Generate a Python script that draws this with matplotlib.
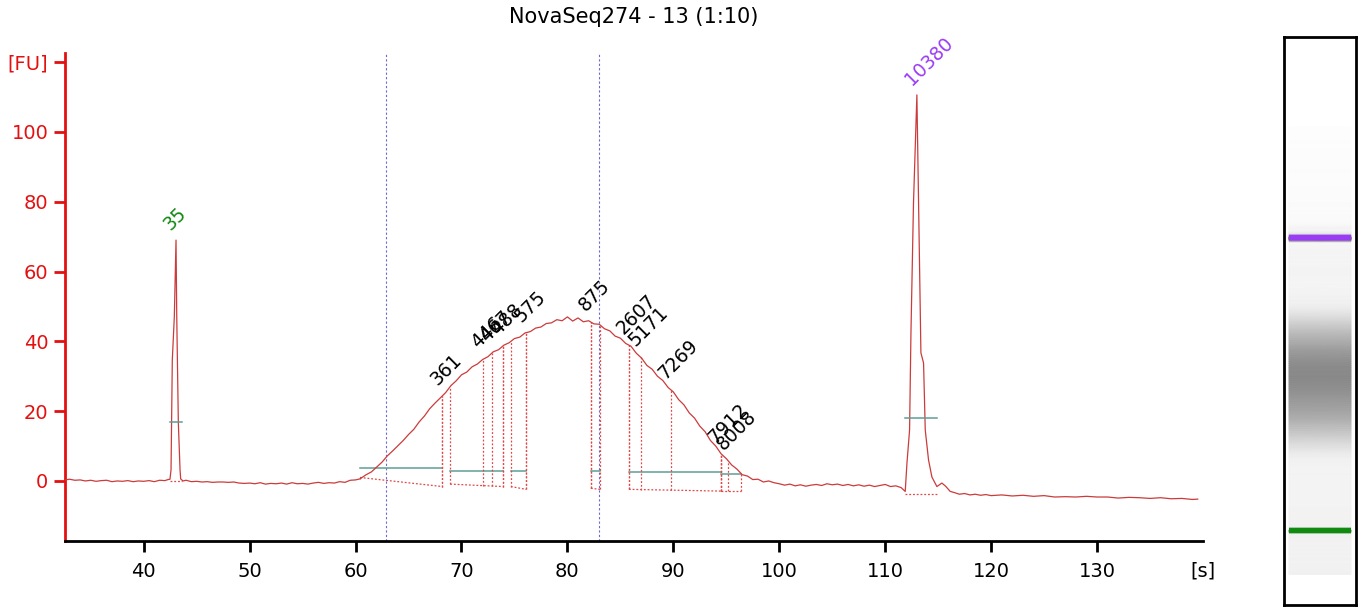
#
# Electropherogram (Bioanalyzer style) with gel lane
#
import numpy as np
import matplotlib.pyplot as plt

# Trace: migration time [s] and signal [FU]
trace_t = [32.6, 33.0, 33.5, 34.0, 34.5, 35.0, 35.5, 36.0, 36.5, 37.0, 37.5, 38.0, 38.5, 39.0, 39.5,
           40.0, 40.5, 41.0, 41.5, 42.0, 42.3, 42.48, 42.58, 42.70, 42.89, 43.05, 43.12, 43.27, 43.43,
           43.49, 43.7, 44.0, 44.5, 45.0, 45.5, 46.0, 46.5, 47.0, 47.5, 48.0, 48.5, 49.0, 49.5, 50.0,
           50.5, 51.0, 51.5, 52.0, 52.5, 53.0, 53.5, 54.0, 54.5, 55.0, 55.5, 56.0, 56.5, 57.0, 57.5,
           58.0, 58.5, 59.0, 59.5, 60.0, 60.42, 61.0, 61.5, 62.0, 62.5, 63.0, 63.5, 64.0, 64.5, 65.0,
           65.5, 66.0, 66.5, 67.0, 67.5, 68.0, 68.5, 69.0, 69.5, 70.0, 70.5, 71.0, 71.5, 72.0, 72.5,
           73.0, 73.5, 74.0, 74.5, 75.0, 75.5, 76.0, 76.5, 77.0, 77.5, 78.0, 78.5, 79.0, 79.5, 80.0,
           80.5, 81.0, 81.5, 82.0, 82.5, 83.0, 83.5, 84.0, 84.5, 85.0, 85.5, 86.0, 86.5, 87.0, 87.5,
           88.0, 88.5, 89.0, 89.5, 90.0, 90.5, 91.0, 91.5, 92.0, 92.5, 93.0, 93.5, 94.0, 94.5, 95.0,
           95.5, 96.0, 96.5, 97.0, 97.5, 98.0, 98.5, 99.0, 99.5, 100.0, 100.5, 101.0, 101.5, 102.0,
           102.5, 103.0, 103.5, 104.0, 104.5, 105.0, 105.5, 106.0, 106.5, 107.0, 107.5, 108.0, 108.5,
           109.0, 109.5, 110.0, 110.5, 111.0, 111.5, 111.89, 112.05, 112.30, 112.43, 112.67, 112.99,
           113.24, 113.37, 113.62, 113.78, 114.09, 114.41, 114.88, 115.35, 115.7, 116.14, 116.5,
           117.0, 117.5, 118.0, 118.5, 119.0, 119.5, 120.0, 121.0, 122.0, 123.0, 124.0, 125.0, 126.0,
           127.0, 128.0, 129.0, 130.0, 131.0, 132.0, 133.0, 134.0, 135.0, 136.0, 137.0, 138.0, 139.0,
           139.5]
trace_fu = [0.3, 0.5, 0.2, 0.3, 0.0, 0.2, -0.1, 0.1, 0.2, -0.2, 0.0, -0.1, 0.1, -0.2, 0.0,
            -0.1, 0.1, -0.2, 0.2, 0.1, 0.4, 0.5, 3.2, 34.7, 47.0, 69.0, 47.0, 16.6, 3.2,
            0.6, 0.0, 0.2, -0.2, -0.1, -0.3, -0.2, -0.4, -0.3, -0.3, -0.4, -0.3, -0.6, -0.7, -0.6,
            -0.8, -0.5, -0.9, -0.7, -0.8, -0.6, -0.9, -0.5, -0.8, -0.7, -0.9, -0.6, -0.4, -0.7, -0.5,
            -0.6, -0.2, -0.4, 0.2, 0.3, 0.6, 1.8, 2.6, 4.0, 5.4, 7.2, 8.6, 10.1, 11.6, 13.3,
            14.8, 16.9, 18.6, 20.7, 22.3, 23.8, 25.3, 27.3, 28.7, 30.4, 31.2, 32.7, 33.5, 34.8, 35.6,
            37.0, 37.6, 38.9, 39.6, 40.8, 41.2, 42.4, 42.8, 43.8, 44.1, 45.1, 45.3, 46.2, 45.9, 47.0,
            45.8, 46.7, 45.6, 45.9, 45.0, 44.9, 43.6, 43.0, 41.5, 40.9, 39.4, 38.6, 36.6, 35.2, 33.1,
            32.0, 30.0, 28.8, 26.8, 25.5, 23.3, 21.8, 19.5, 18.0, 15.7, 14.1, 11.6, 10.0, 7.8, 6.4,
            4.6, 3.4, 1.8, 1.4, 0.4, 0.5, -0.3, 0.0, -0.5, -0.8, -1.2, -0.9, -1.4, -1.1,
            -1.5, -1.2, -1.0, -1.3, -0.8, -1.1, -0.9, -1.3, -1.0, -1.4, -1.1, -1.5, -1.2,
            -1.6, -1.3, -1.0, -1.6, -1.4, -1.9, -3.0, 5.0, 14.6, 42.4, 79.7, 110.6,
            62.5, 36.7, 33.8, 14.6, 6.0, 1.1, -1.6, -0.6, -1.5, -3.0, -3.3,
            -3.8, -3.6, -4.0, -3.8, -4.1, -3.9, -4.2, -4.0, -4.3, -4.1, -4.4, -4.2, -4.6,
            -4.5, -4.6, -4.4, -4.6, -4.6, -4.9, -4.7, -4.8, -5.0, -4.8, -5.1, -5.0, -5.3,
            -5.2]

# Smear peaks (size label, time)
peak_labels = ['361', '446', '467', '488', '575', '875', '2607', '5171', '7269', '7912', '8008']
peak_times = [68.20, 72.01, 72.92, 73.90, 76.10, 82.21, 85.80, 86.93, 89.76, 94.49, 95.20]

# Peak regions: start, end, teal level, dotted base at start / end
region_start = [60.42, 68.93, 74.66, 82.21, 85.80, 94.49]
region_end = [68.20, 73.90, 76.10, 83.09, 94.49, 96.37]
region_level = [3.6, 2.95, 2.95, 2.95, 2.5, 2.0]
base_start = [1.0, -0.9, -1.6, -2.1, -2.4, -2.9]
base_end = [-1.6, -1.6, -2.4, -2.4, -2.9, -2.9]

# Markers
marker_labels = ['35', '10380']
marker_times = [43.05, 112.99]
marker_colors = ['#128a12', '#9b3cf5']
marker_start = [42.48, 111.89]
marker_end = [43.59, 114.88]
marker_level = [16.8, 18.0]
marker_base = [0.0, -3.8]

# Region-of-interest cursor lines
cursor_times = [62.88, 82.95]

title = 'NovaSeq274 - 13 (1:10)'
xticks = [40, 50, 60, 70, 80, 90, 100, 110, 120, 130]
yticks = [0, 20, 40, 60, 80, 100, 120]
ytick_labels = ['0', '20', '40', '60', '80', '100', '[FU]']

red = '#e41010'
trace_col = '#cc3b3b'
dot_col = '#e04848'
teal = '#5e9e94'

plt.rcParams['font.family'] = 'DejaVu Sans'

fig = plt.figure(figsize=(13.61, 6.09), dpi=100)
W, H = 1361, 609
ax = fig.add_axes([65 / W, 1 - 541 / H, (1203 - 65) / W, (541 - 53) / H])

t = np.array(trace_t)
fu = np.array(trace_fu)

ax.plot(t, fu, color=trace_col, lw=0.9, zorder=3)

# cursor lines
for c in cursor_times:
    ax.axvline(c, color='#6a6ad0', lw=0.8, ls=(0, (2, 2)), zorder=1)

# smear regions
for s, e, lev, b0, b1 in zip(region_start, region_end, region_level, base_start, base_end):
    ax.plot([s, e], [b0, b1], color=dot_col, lw=0.9, ls=(0, (1.5, 1.5)), zorder=2)
    ax.plot([s, e], [lev, lev], color=teal, lw=1.1, zorder=2)
    for x, b in ((s, b0), (e, b1)):
        ax.plot([x, x], [b, np.interp(x, t, fu)], color=dot_col, lw=0.9, ls=(0, (1.5, 1.5)), zorder=2)

# peak lines inside regions
for pt in peak_times:
    for s, e, b0, b1 in zip(region_start, region_end, base_start, base_end):
        if s <= pt <= e:
            b = b0 + (b1 - b0) * (pt - s) / (e - s)
            ax.plot([pt, pt], [b, np.interp(pt, t, fu)], color=dot_col, lw=0.9,
                    ls=(0, (1.5, 1.5)), zorder=2)
            break

# marker regions
for s, e, lev, b in zip(marker_start, marker_end, marker_level, marker_base):
    ax.plot([s, e], [lev, lev], color=teal, lw=1.1, zorder=4)
    ax.plot([s, e], [b, b], color=dot_col, lw=0.9, ls=(0, (1.5, 1.5)), zorder=2)

# labels
for lbl, pt in zip(peak_labels, peak_times):
    ax.annotate(lbl, xy=(pt, np.interp(pt, t, fu)), xytext=(-5, 10), textcoords='offset pixels',
                rotation=45, rotation_mode='anchor', ha='left', va='baseline',
                fontsize=13.5, color='black', zorder=5)
for lbl, pt, col in zip(marker_labels, marker_times, marker_colors):
    ax.annotate(lbl, xy=(pt, np.interp(pt, t, fu)), xytext=(-5, 9), textcoords='offset pixels',
                rotation=45, rotation_mode='anchor', ha='left', va='baseline',
                fontsize=13.5, color=col, zorder=5)

ax.set_xlim(32.57, 140.0)
ax.set_ylim(-17.2, 122.6)
ax.set_xticks(xticks)
ax.set_yticks(yticks)
ax.set_yticklabels(ytick_labels)
for sp in ('top', 'right'):
    ax.spines[sp].set_visible(False)
ax.spines['left'].set_color(red)
ax.spines['left'].set_linewidth(2)
ax.spines['bottom'].set_color('black')
ax.spines['bottom'].set_linewidth(2)
ax.tick_params(axis='y', colors=red, labelcolor=red, length=8, width=2, pad=4, labelsize=14)
ax.tick_params(axis='x', colors='black', length=8, width=2, pad=7, labelsize=14)
ax.annotate('[s]', xy=(1, 0), xycoords='axes fraction', xytext=(0, -15),
            textcoords='offset points', ha='center', va='top', fontsize=14)

fig.text(634 / W, 1 - 17 / H, title, ha='center', va='center', fontsize=15)

# gel lane
gx = fig.add_axes([1284 / W, 1 - 605 / H, 72 / W, 568 / H])
gx.set_xlim(0, 1)
gx.set_ylim(25.3, 161.0)
gx.set_xticks([])
gx.set_yticks([])
for sp in gx.spines.values():
    sp.set_linewidth(2)
    sp.set_color('black')

gray = np.clip(0.945 - fu * 0.00877, 0, 1)
X, Y = np.meshgrid([0.07, 0.93], t)
C = np.column_stack([gray, gray])
gx.pcolormesh(X, Y, C, cmap='gray', vmin=0, vmax=1, shading='gouraud')
for s, e, mt, col in zip(marker_start, marker_end, marker_times, marker_colors):
    gx.fill_between([0.07, 0.93], mt - 0.85, mt + 0.85, color=col, alpha=0.35, lw=0)
    gx.fill_between([0.07, 0.93], mt - 0.6, mt + 0.6, color=col, lw=0)

fig.savefig('out.png', dpi=100)
